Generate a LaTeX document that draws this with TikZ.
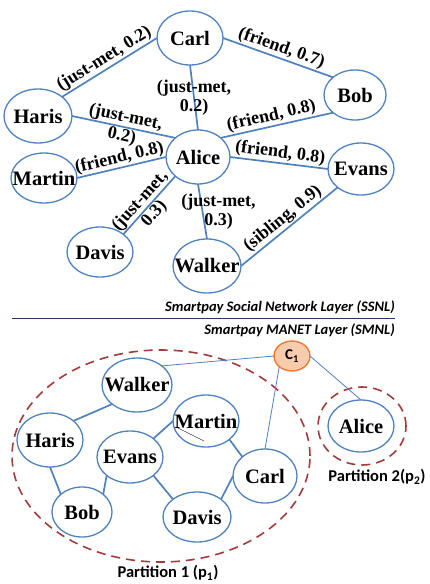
\documentclass[tikz,border=0pt]{standalone}
\usepackage{fontspec}
\setmainfont{Liberation Serif}
\setsansfont{Carlito}
\usetikzlibrary{shapes.geometric}

\definecolor{nodeblue}{HTML}{4F81BD}
\definecolor{partred}{HTML}{A23B3B}
\definecolor{layernavy}{HTML}{1F3864}
\definecolor{clusterfill}{HTML}{F8CBAD}
\definecolor{clusterdraw}{HTML}{ED7D31}

% name set in a zero-width box so the ellipse keeps its given size
\newcommand{\nmbox}[1]{\makebox[0pt]{#1}}

\begin{document}
\begin{tikzpicture}[x=1pt,y=-1pt,
  person/.style={ellipse, draw=nodeblue, line width=1.3pt, inner sep=0pt,
    outer sep=0pt, minimum width=66pt, minimum height=52pt,
    font=\fontsize{20.5}{22}\selectfont\bfseries},
  ell/.style 2 args={minimum width=#1pt, minimum height=#2pt},
  tie/.style={draw=nodeblue, line width=1.7pt},
  thintie/.style={draw=nodeblue, line width=0.8pt},
  rel/.style={font=\fontsize{18}{19}\selectfont\bfseries, inner sep=1pt,
    align=center, text=black},
  partition/.style={ellipse, draw=partred, line width=1.6pt,
    dash pattern=on 9pt off 6pt, inner sep=0pt, outer sep=0pt},
  layertxt/.style={font=\fontsize{14.5}{15}\selectfont\sffamily\bfseries\itshape,
    inner sep=0pt, anchor=east},
  parttxt/.style={font=\fontsize{16.5}{17}\selectfont\sffamily\bfseries,
    inner sep=0pt},
  cluster/.style={ellipse, draw=clusterdraw, fill=clusterfill, line width=1.4pt,
    inner sep=0pt, outer sep=0pt, minimum width=36pt, minimum height=30pt,
    font=\fontsize{15}{16}\selectfont\sffamily\bfseries}
]
\useasboundingbox (0,0) rectangle (430,584);

% ---------------- social network layer ----------------
\node[person, ell={66}{54}] (tCarl)   at (190,38)  {\nmbox{Carl}};
\node[person, ell={62}{50}] (tBob)    at (355,95)  {\nmbox{Bob}};
\node[person, ell={68}{54}] (tHaris)  at (38,116)  {\nmbox{Haris}};
\node[person, ell={64}{54}] (tAlice)  at (198,157) {\nmbox{Alice}};
\node[person, ell={66}{50}] (tMartin) at (44,178)  {\nmbox{Martin}};
\node[person, ell={66}{52}] (tEvans)  at (361,169) {\nmbox{Evans}};
\node[person, ell={66}{50}] (tDavis)  at (100,252) {\nmbox{Davis}};
\node[person, ell={68}{54}] (tWalker) at (207,266) {\nmbox{Walker}};

\draw[tie] (tHaris.north east) -- node[rel, sloped, above] {(just-met, 0.2)} (tCarl.west);
\draw[tie] (tHaris.east) -- node[rel, sloped] {(just-met,\\0.2)} (tAlice.north west);
\draw[tie] (tCarl.south) -- node[rel] {(just-met,\\0.2)} (tAlice.north);
\draw[tie] (tCarl.east) -- node[rel, sloped, above] {(friend, 0.7)} (tBob.north west);
\draw[tie] (tAlice.north east) -- node[rel, sloped, above, pos=0.47] {(friend, 0.8)} (tBob.south west);
\draw[tie] (tMartin.east) -- node[rel, sloped, above, inner sep=0.5pt] {(friend, 0.8)} (tAlice.west);
\draw[tie] (tAlice.east) -- node[rel, sloped, above] {(friend, 0.8)} (tEvans.west);
\draw[tie] (tDavis.north east) -- node[rel, sloped, pos=0.46] {(just-met,\\0.3)} (tAlice.south west);
\draw[tie] (tAlice.south) -- node[rel, xshift=16pt] {(just-met,\\0.3)} (tWalker.north);
\draw[tie] (tWalker.east) -- node[rel, sloped, above] {(sibling, 0.9)} (tEvans.south west);

% ---------------- layer separator ----------------
\node[layertxt] (ssnl) at (395,307) {Smartpay Social Network Layer (SSNL)};
\coordinate (sepL) at (12,318);
\coordinate (sepR) at (395,318);
\draw[layernavy, line width=1pt] (sepL) -- (sepR);
\node[layertxt] (smnl) at (395,330) {Smartpay MANET Layer (SMNL)};

% ---------------- MANET layer ----------------
\node[partition, ell={298}{212}] (P1) at (161,456) {};
\node[partition, ell={88}{78}]   (P2) at (362,426) {};

\node[cluster] (C1) at (292,356) {C\textsubscript{1}};

\node[person, ell={70}{54}] (bWalker) at (137,385) {\nmbox{Walker}};
\node[person, ell={66}{52}] (bMartin) at (206,421) {\nmbox{Martin}};
\node[person, ell={66}{54}] (bHaris)  at (50,440)  {\nmbox{Haris}};
\node[person, ell={66}{52}] (bEvans)  at (130,457) {\nmbox{Evans}};
\node[person, ell={60}{50}] (bBob)    at (82,512)  {\nmbox{Bob}};
\node[person, ell={68}{50}] (bDavis)  at (197,517) {\nmbox{Davis}};
\node[person, ell={64}{54}] (bCarl)   at (265,476) {\nmbox{Carl}};
\node[person, ell={66}{52}] (bAlice)  at (361,426) {\nmbox{Alice}};

\draw[tie] (bWalker.south west) -- (bHaris.north east);
\draw[tie] (bHaris.south) -- (bBob.north west);
\draw[tie] (bBob.north east) -- (bEvans.south west);
\draw[tie] (bEvans.north east) -- (bMartin.west);
\draw[tie] (bEvans.south east) -- (bDavis.north west);
\draw[tie] (bDavis.north east) -- (bCarl.west);
\draw[tie] (bMartin.south east) -- (bCarl.north west);

\draw[thintie] (C1.west) -- (bWalker.north east);
\draw[thintie] (C1.south west) -- (bCarl.north);
\draw[thintie] (C1.east) -- (bAlice.north);

% short stroke inside Martin
\coordinate (mk1) at (178,428);
\coordinate (mk2) at (204,441);
\draw[black, line width=0.4pt] (mk1) -- (mk2);

\node[parttxt] (p1lbl) at (168,573) {Partition 1 (p\textsubscript{1})};
\node[parttxt] (p2lbl) at (377,477) {Partition 2(p\textsubscript{2})};
\end{tikzpicture}
\end{document}
